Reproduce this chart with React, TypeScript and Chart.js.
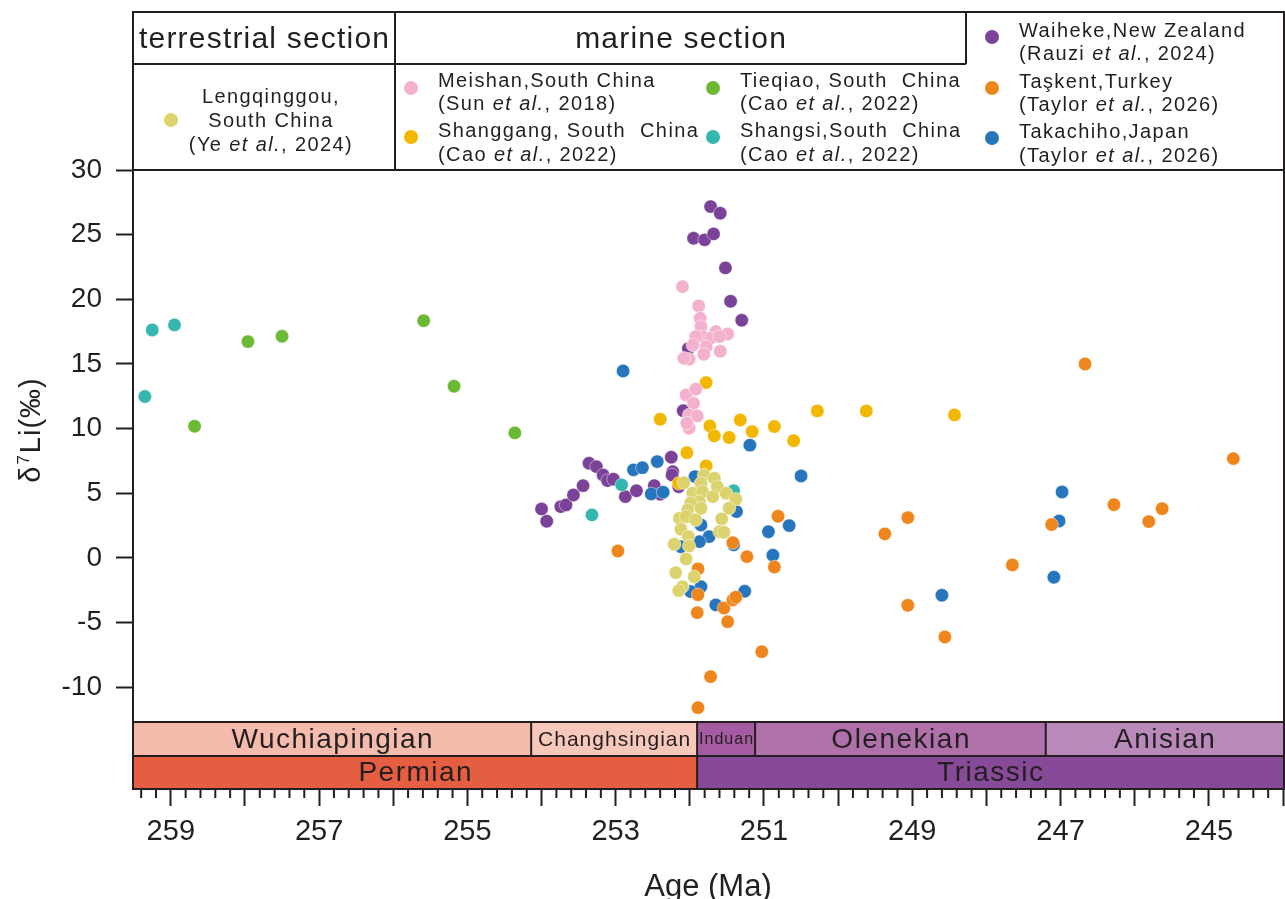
import React, { useEffect, useRef } from "react";
import { Chart, registerables } from "chart.js";

Chart.register(...registerables);

const FONT = '"Liberation Sans", Arial, Helvetica, sans-serif';
const INK = "#231f20";

// ---------------- data ----------------
const lengqinggouAge = [252.08, 251.81, 251.67, 251.85, 251.63, 251.96, 251.83, 251.69, 251.51, 251.38, 251.87, 251.99, 251.47, 252.03, 251.85, 252.14, 252.05, 251.92, 251.57, 252.12, 251.6, 251.54, 252.02, 252.21, 252.01, 252.05, 252.19, 251.94, 252.1, 252.15];
const lengqinggouLi = [5.82, 6.42, 6.16, 5.77, 5.51, 5.0, 5.13, 4.74, 5.0, 4.54, 4.35, 4.23, 3.84, 3.71, 3.84, 3.07, 3.19, 2.94, 3.02, 2.22, 2.03, 1.99, 1.65, 1.06, 0.93, -0.08, -1.14, -1.45, -2.22, -2.53];

const meishanAge = [252.10, 251.88, 251.86, 251.85, 251.65, 251.49, 251.83, 251.92, 251.72, 251.60, 251.96, 251.78, 251.59, 251.81, 252.01, 252.08, 252.05, 251.92, 251.95, 252.01, 251.9, 252.01, 252.04];
const meishanLi = [20.98, 19.49, 18.54, 17.89, 17.5, 17.32, 17.12, 17.12, 16.99, 17.12, 16.47, 16.34, 15.98, 15.75, 15.37, 15.44, 12.6, 13.05, 11.96, 11.06, 10.98, 10.03, 10.42];

const shanggangAge = [251.78, 252.40, 251.73, 251.67, 251.47, 251.32, 251.16, 250.86, 250.60, 252.04, 250.28, 249.62, 248.43, 251.78, 252.15];
const shanggangLi = [13.56, 10.73, 10.21, 9.44, 9.31, 10.67, 9.77, 10.16, 9.07, 8.14, 11.37, 11.37, 11.06, 7.12, 5.77];

const tieqiaoAge = [258.68, 257.96, 257.50, 255.59, 255.18, 254.36];
const tieqiaoLi = [10.18, 16.73, 17.14, 18.35, 13.28, 9.67];

const shangsiAge = [259.35, 259.25, 258.95, 253.32, 252.92, 251.41];
const shangsiLi = [12.48, 17.63, 18.02, 3.33, 5.65, 5.2];

const waihekeAge = [254.0, 253.93, 253.74, 253.67, 253.57, 253.44, 253.36, 253.26, 253.17, 253.11, 253.03, 252.87, 252.72, 252.48, 252.40, 252.25, 252.23, 252.24, 252.15, 252.09, 252.02, 251.72, 251.59, 251.95, 251.80, 251.68, 251.52, 251.45, 251.30];
const waihekeLi = [3.79, 2.84, 3.97, 4.1, 4.87, 5.59, 7.32, 7.06, 6.42, 5.98, 6.09, 4.74, 5.2, 5.59, 4.93, 7.79, 6.67, 6.42, 5.51, 11.39, 16.19, 27.17, 26.66, 24.72, 24.6, 25.06, 22.43, 19.85, 18.38];

const taskentAge = [252.97, 250.81, 251.42, 251.23, 250.86, 251.89, 251.89, 251.9, 251.54, 251.42, 251.38, 251.49, 251.03, 251.72, 251.89, 246.67, 244.67, 246.28, 245.63, 245.81, 247.12, 249.06, 249.37, 247.65, 249.06, 248.56];
const taskentLi = [0.54, 3.22, 1.18, 0.1, -0.7, -0.85, -2.84, -4.23, -3.87, -3.25, -3.04, -4.93, -7.25, -9.18, -11.58, 15.0, 7.68, 4.12, 3.81, 2.81, 2.58, 3.12, 1.86, -0.54, -3.66, -6.11];

const takachihoAge = [252.9, 251.19, 250.5, 250.66, 246.98, 247.02, 247.09, 248.6, 252.76, 252.64, 252.44, 252.52, 252.36, 251.93, 251.37, 251.85, 251.74, 251.87, 252.12, 251.41, 250.94, 250.88, 251.85, 251.65, 251.26, 251.99];
const takachihoLi = [14.46, 8.72, 6.34, 2.5, 5.10, 2.86, -1.49, -2.89, 6.81, 6.98, 7.45, 4.95, 5.08, 6.29, 3.58, 2.55, 1.65, 1.26, 0.87, 1.01, 2.03, 0.21, -2.22, -3.63, -2.58, -2.6];

const seriesNames = ["Lengqinggou", "Meishan", "Shanggang", "Tieqiao", "Shangsi", "Taşkent", "Takachiho", "Waiheke"];
const seriesColors = ["#dcd36e", "#f3b1ce", "#f2b700", "#6bb935", "#33b7ae", "#ef861d", "#2675bd", "#7b4398"];
const seriesAges = [lengqinggouAge, meishanAge, shanggangAge, tieqiaoAge, shangsiAge, taskentAge, takachihoAge, waihekeAge];
const seriesLi = [lengqinggouLi, meishanLi, shanggangLi, tieqiaoLi, shangsiLi, taskentLi, takachihoLi, waihekeLi];

const stageNames = ["Wuchiapingian", "Changhsingian", "Induan", "Olenekian", "Anisian"];
const stageStart = [259.51, 254.14, 251.902, 251.12, 247.2];
const stageEnd = [254.14, 251.902, 251.12, 247.2, 244];
const stageColors = ["#f5bcad", "#f8c8ba", "#a55ba2", "#b070aa", "#b989ba"];

const periodNames = ["Permian", "Triassic"];
const periodStart = [259.51, 251.902];
const periodEnd = [251.902, 244];
const periodColors = ["#e55e42", "#864a98"];

const xMajorTicks = [259, 258, 257, 256, 255, 254, 253, 252, 251, 250, 249, 248, 247, 246, 245, 244];
const xTickLabels = [259, 257, 255, 253, 251, 249, 247, 245];
const yTicks = [-10, -5, 0, 5, 10, 15, 20, 25, 30];

const xMin = 244;
const xMax = 259.51;
const yMax = 30;
const yMin = -17.87;
const stageBandTop = -12.69;
const periodBandTop = -15.32;

// legend content ("|" toggles italic)
const headerTerrestrial = "terrestrial section";
const headerMarine = "marine section";
const legendLines: Record<string, string[]> = {
  Lengqinggou: ["Lengqinggou,", "South China", "(Ye |et al.|, 2024)"],
  Meishan: ["Meishan,South China", "(Sun |et al.|, 2018)"],
  Shanggang: ["Shanggang, South  China", "(Cao |et al.|, 2022)"],
  Tieqiao: ["Tieqiao, South  China", "(Cao |et al.|, 2022)"],
  Shangsi: ["Shangsi,South  China", "(Cao |et al.|, 2022)"],
  Waiheke: ["Waiheke,New Zealand", "(Rauzi |et al.|, 2024)"],
  "Taşkent": ["Taşkent,Turkey", "(Taylor |et al.|, 2026)"],
  Takachiho: ["Takachiho,Japan", "(Taylor |et al.|, 2026)"],
};

// ---------------- drawing helpers ----------------
function fontStr(size: number, italic = false) {
  return `${italic ? "italic " : ""}${size}px ${FONT}`;
}

function setSpacing(ctx: any, px: number) {
  if ("letterSpacing" in ctx) ctx.letterSpacing = `${px}px`;
}

function drawRich(ctx: CanvasRenderingContext2D, text: string, x: number, y: number, size: number, spacing: number, align: "left" | "center") {
  const parts = text.split("|");
  setSpacing(ctx, spacing);
  let total = 0;
  const widths = parts.map((p, i) => {
    ctx.font = fontStr(size, i % 2 === 1);
    const w = ctx.measureText(p).width;
    total += w;
    return w;
  });
  let cx = align === "center" ? x - total / 2 : x;
  ctx.textAlign = "left";
  ctx.textBaseline = "middle";
  parts.forEach((p, i) => {
    ctx.font = fontStr(size, i % 2 === 1);
    ctx.fillText(p, cx, y);
    cx += widths[i];
  });
  setSpacing(ctx, 0);
}

function centerText(ctx: CanvasRenderingContext2D, text: string, x: number, y: number, size: number, spacing: number) {
  setSpacing(ctx, spacing);
  ctx.font = fontStr(size);
  ctx.textAlign = "left";
  ctx.textBaseline = "middle";
  const w = ctx.measureText(text).width - spacing;
  ctx.fillText(text, x - w / 2, y);
  setSpacing(ctx, 0);
}

function line(ctx: CanvasRenderingContext2D, x1: number, y1: number, x2: number, y2: number) {
  ctx.beginPath();
  ctx.moveTo(x1, y1);
  ctx.lineTo(x2, y2);
  ctx.stroke();
}

function dot(ctx: CanvasRenderingContext2D, x: number, y: number, color: string) {
  ctx.beginPath();
  ctx.arc(x, y, 7, 0, Math.PI * 2);
  ctx.fillStyle = color;
  ctx.fill();
}

const framePlugin = {
  id: "frameAndBands",
  afterDatasetsDraw(chart: any) {
    const { ctx, chartArea: ca } = chart;
    const x = chart.scales.x;
    const y = chart.scales.y;
    ctx.save();

    const yStage = y.getPixelForValue(stageBandTop);
    const yPeriod = y.getPixelForValue(periodBandTop);
    const yBottom = y.getPixelForValue(yMin);
    const yTopPlot = y.getPixelForValue(yMax);
    const legendTop = 12;
    const headerBottom = 64;
    const sep1 = 395;
    const sep2 = 966;
    const right = ca.right + 1;

    // stage bands
    stageNames.forEach((name, i) => {
      const a = x.getPixelForValue(stageStart[i]);
      const b = x.getPixelForValue(stageEnd[i]);
      const l = Math.min(a, b);
      const r = Math.max(a, b);
      ctx.fillStyle = stageColors[i];
      ctx.fillRect(l, yStage, r - l, yPeriod - yStage);
      const size = name === "Induan" ? 16 : name === "Changhsingian" ? 21 : 28;
      const sp = name === "Induan" || name === "Changhsingian" ? 1 : 1.5;
      ctx.fillStyle = INK;
      centerText(ctx, name, (l + r) / 2, (yStage + yPeriod) / 2 + 1, size, sp);
    });
    periodNames.forEach((name, i) => {
      const a = x.getPixelForValue(periodStart[i]);
      const b = x.getPixelForValue(periodEnd[i]);
      const l = Math.min(a, b);
      const r = Math.max(a, b);
      ctx.fillStyle = periodColors[i];
      ctx.fillRect(l, yPeriod, r - l, yBottom - yPeriod);
      ctx.fillStyle = INK;
      centerText(ctx, name, (l + r) / 2, (yPeriod + yBottom) / 2 + 1, 28, 1.5);
    });

    ctx.strokeStyle = INK;
    ctx.lineWidth = 2;
    line(ctx, ca.left, yStage, right, yStage);
    line(ctx, ca.left, yPeriod, right, yPeriod);
    line(ctx, ca.left - 1, yBottom, right + 1, yBottom);
    stageStart.forEach((s, i) => {
      if (i === 0) return;
      const px = x.getPixelForValue(s);
      line(ctx, px, yStage, px, yPeriod);
    });
    periodStart.forEach((s, i) => {
      if (i === 0) return;
      const px = x.getPixelForValue(s);
      line(ctx, px, yPeriod, px, yBottom);
    });

    // minor x ticks (every 0.2 Ma)
    for (let i = 0; i * 0.2 <= xMax - xMin; i++) {
      if (i % 5 === 0) continue;
      const px = x.getPixelForValue(xMin + i * 0.2);
      line(ctx, px, yBottom, px, yBottom + 9);
    }

    // frame + legend table
    line(ctx, ca.left, legendTop - 1, ca.left, yBottom + 1);
    line(ctx, right, legendTop - 1, right, yBottom + 1);
    line(ctx, ca.left - 1, legendTop, right + 1, legendTop);
    line(ctx, ca.left - 1, yTopPlot, right + 1, yTopPlot);
    line(ctx, ca.left, headerBottom, sep2, headerBottom);
    line(ctx, sep1, legendTop, sep1, yTopPlot);
    line(ctx, sep2, legendTop, sep2, headerBottom);

    ctx.fillStyle = INK;
    centerText(ctx, headerTerrestrial, (ca.left + sep1) / 2, 40, 30, 1.2);
    centerText(ctx, headerMarine, (sep1 + sep2) / 2, 40, 30, 1.2);

    const colorOf = (n: string) => seriesColors[seriesNames.indexOf(n)];
    const lsize = 20;
    const lsp = 1.4;

    dot(ctx, 171, 120, colorOf("Lengqinggou"));
    ctx.fillStyle = INK;
    const lq = legendLines["Lengqinggou"];
    drawRich(ctx, lq[0], 271, 97, lsize, lsp, "center");
    drawRich(ctx, lq[1], 271, 121, lsize, lsp, "center");
    drawRich(ctx, lq[2], 271, 145, lsize, lsp, "center");

    // [name, markerX, markerY, line1Y, line2Y]
    const entries: [string, number, number, number, number][] = [
      ["Meishan", 411, 88, 81, 104],
      ["Shanggang", 411, 137, 131, 155],
      ["Tieqiao", 713, 88, 81, 104],
      ["Shangsi", 713, 137, 131, 155],
      ["Waiheke", 992, 37, 31, 54],
      ["Taşkent", 992, 88, 82, 105],
      ["Takachiho", 992, 138, 132, 156],
    ];
    entries.forEach(([n, mx, my, l1, l2]) => {
      dot(ctx, mx, my, colorOf(n));
      ctx.fillStyle = INK;
      const ls = legendLines[n];
      drawRich(ctx, ls[0], mx + 27, l1, lsize, lsp, "left");
      drawRich(ctx, ls[1], mx + 27, l2, lsize, lsp, "left");
    });

    // y axis title: δ7Li(‰)
    ctx.save();
    ctx.translate(30, 430);
    ctx.rotate(-Math.PI / 2);
    ctx.fillStyle = INK;
    ctx.textBaseline = "alphabetic";
    ctx.textAlign = "left";
    setSpacing(ctx, 1);
    const big = fontStr(29);
    const small = fontStr(17);
    ctx.font = big;
    const w1 = ctx.measureText("δ").width;
    const w3 = ctx.measureText("Li(‰)").width;
    ctx.font = small;
    const w2 = ctx.measureText("7").width + 2;
    const total = w1 + w2 + w3;
    let cx = -total / 2;
    const base = 10;
    ctx.font = big;
    ctx.fillText("δ", cx, base);
    cx += w1;
    ctx.font = small;
    ctx.fillText("7", cx + 1, base - 11);
    cx += w2;
    ctx.font = big;
    ctx.fillText("Li(‰)", cx, base);
    setSpacing(ctx, 0);
    ctx.restore();

    ctx.restore();
  },
};

export default function App() {
  const ref = useRef<HTMLCanvasElement>(null);

  useEffect(() => {
    const datasets = seriesNames.map((name, i) => ({
      label: name,
      data: seriesAges[i].map((a, j) => ({ x: a, y: seriesLi[i][j] })),
      backgroundColor: seriesColors[i],
      borderColor: "rgba(255,255,255,0.75)",
      borderWidth: 0.6,
      pointRadius: 6.7,
      pointHoverRadius: 6.7,
      showLine: false,
    }));

    const chart = new Chart(ref.current as HTMLCanvasElement, {
      type: "scatter",
      data: { datasets },
      options: {
        animation: false,
        responsive: false,
        devicePixelRatio: 1,
        events: [],
        layout: { autoPadding: false, padding: { top: 170, right: 2, left: 0, bottom: 0 } },
        plugins: {
          legend: { display: false },
          tooltip: { enabled: false },
          title: { display: false },
        },
        scales: {
          x: {
            type: "linear",
            position: "bottom",
            reverse: true,
            min: xMin,
            max: xMax,
            afterBuildTicks: (s: any) => {
              s.ticks = xMajorTicks.map((v) => ({ value: v }));
            },
            afterFit: (s: any) => {
              s.height = 110;
              s.paddingLeft = 0;
              s.paddingRight = 0;
            },
            ticks: {
              autoSkip: false,
              maxRotation: 0,
              minRotation: 0,
              padding: 9,
              color: INK,
              font: { family: FONT, size: 29 },
              callback: (v: any) => (xTickLabels.includes(Number(v)) ? String(v) : ""),
            },
            grid: {
              drawOnChartArea: false,
              drawTicks: true,
              tickLength: 17,
              tickWidth: 2,
              tickColor: INK,
            },
            border: { display: true, color: INK, width: 2 },
            title: {
              display: true,
              text: "Age (Ma)",
              color: INK,
              font: { family: FONT, size: 31, lineHeight: 1 },
              padding: { top: 0, bottom: -4 },
            },
          },
          y: {
            type: "linear",
            min: yMin,
            max: yMax,
            afterBuildTicks: (s: any) => {
              s.ticks = yTicks.map((v) => ({ value: v }));
            },
            afterFit: (s: any) => {
              s.width = 133;
              s.paddingTop = 0;
              s.paddingBottom = 0;
            },
            ticks: {
              autoSkip: false,
              padding: 14,
              color: INK,
              font: { family: FONT, size: 28 },
            },
            grid: {
              drawOnChartArea: false,
              drawTicks: true,
              tickLength: 17,
              tickWidth: 2,
              tickColor: INK,
            },
            border: { display: true, color: INK, width: 2 },
          },
        },
      },
      plugins: [framePlugin],
    } as any);

    return () => chart.destroy();
  }, []);

  return (
    <div style={{ position: "absolute", left: 0, top: 0, width: 1285, height: 899, background: "#ffffff" }}>
      <canvas ref={ref} width={1285} height={899} style={{ display: "block", width: 1285, height: 899 }} />
    </div>
  );
}
